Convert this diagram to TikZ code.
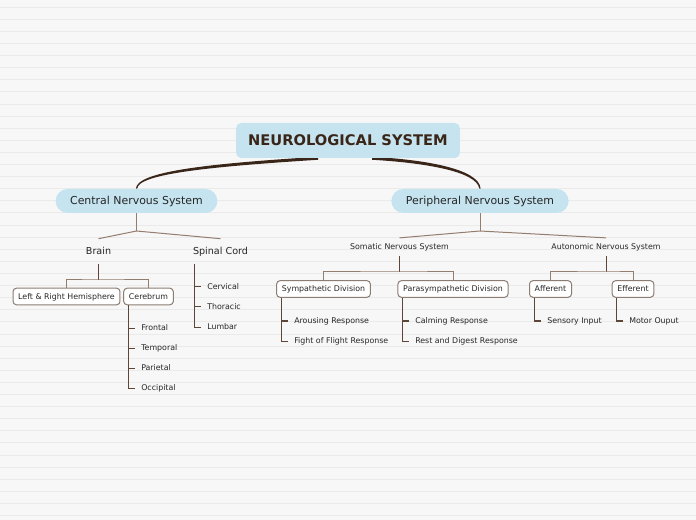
\documentclass[tikz,border=0pt]{standalone}
\usepackage{fontspec}
\setmainfont{DejaVu Sans}
\usetikzlibrary{calc}
\definecolor{paper}{HTML}{F7F7F7}
\definecolor{ruling}{HTML}{EAEAEA}
\definecolor{topic}{HTML}{C6E4EF}
\definecolor{ink}{HTML}{3A2519}
\definecolor{linkc}{HTML}{937D6F}
\definecolor{stemc}{HTML}{5E4637}
\definecolor{framec}{HTML}{8C7D74}
\pgfdeclarelayer{back}
\pgfsetlayers{back,main}

\begin{document}
\begin{tikzpicture}[x=0.75pt,y=-0.75pt,
  headnode/.style={fill=topic,rounded corners=3.75pt,text=ink,inner xsep=9pt,inner ysep=0pt,
    minimum height=26.25pt,text height=8pt,text depth=0pt,font=\fontsize{11}{13}\selectfont\bfseries},
  topicnode/.style={fill=topic,rounded corners=9pt,text=black!85,inner xsep=10.9pt,inner ysep=0pt,
    minimum height=18pt,text height=6pt,text depth=0pt,font=\fontsize{8.2}{10}\selectfont},
  midnode/.style={text=black!85,inner xsep=2pt,inner ysep=6.6pt,text height=5.3pt,text depth=0pt,
    font=\fontsize{7.2}{9}\selectfont},
  smallnode/.style={text=black!85,inner xsep=2pt,inner ysep=4.5pt,text height=4.3pt,text depth=0pt,
    font=\fontsize{5.9}{7}\selectfont},
  boxnode/.style={draw=framec,line width=0.75pt,fill=white,rounded corners=2.5pt,inner xsep=3.9pt,inner ysep=0pt,
    minimum height=12.4pt,text height=4.3pt,text depth=0pt,text=black!85,font=\fontsize{5.9}{7}\selectfont},
  leafnode/.style={anchor=west,inner xsep=4.5pt,inner ysep=1pt,text height=4.3pt,text depth=0pt,
    text=black!85,font=\fontsize{5.9}{7}\selectfont},
  link/.style={draw=linkc,line width=0.75pt},
  stemline/.style={draw=stemc,line width=0.75pt},
  ]
\useasboundingbox (0,0) rectangle (696,520);

\node (root) at (348,140.5) [headnode] {NEUROLOGICAL SYSTEM};
\node (cns) at (136.5,201) [topicnode] {Central Nervous System};
\node (pns) at (480,201) [topicnode] {Peripheral Nervous System};

\node (brain) at (98.5,251.3) [midnode] {Brain};
\node (spinal) at (220.5,251.3) [midnode] {Spinal Cord};
\node (somatic) at (399.5,247) [smallnode] {Somatic Nervous System};
\node (autonomic) at (606,247) [smallnode] {Autonomic Nervous System};

\node (lrh) at (66.5,296.5) [boxnode] {Left \& Right Hemisphere};
\node (cereb) at (148.5,296.5) [boxnode] {Cerebrum};
\node (symp) at (323.5,289) [boxnode] {Sympathetic Division};
\node (para) at (453,289) [boxnode] {Parasympathetic Division};
\node (aff) at (550.5,289) [boxnode] {Afferent};
\node (eff) at (633,289) [boxnode] {Efferent};

\node (frontal) at (135,328) [leafnode] {Frontal};
\node (temporal) at (135,348) [leafnode] {Temporal};
\node (parietal) at (135,368) [leafnode] {Parietal};
\node (occipital) at (135,388) [leafnode] {Occipital};
\node (cervical) at (201,287) [leafnode] {Cervical};
\node (thoracic) at (201,307) [leafnode] {Thoracic};
\node (lumbar) at (201,327) [leafnode] {Lumbar};
\node (arousing) at (288,321) [leafnode] {Arousing Response};
\node (fight) at (288,341) [leafnode] {Fight of Flight Response};
\node (calming) at (409,321) [leafnode] {Calming Response};
\node (rest) at (409,341) [leafnode] {Rest and Digest Response};
\node (sensory) at (541,321) [leafnode] {Sensory Input};
\node (motor) at (623,321) [leafnode] {Motor Ouput};

\coordinate (cj) at (136.5,231);
\coordinate (pj) at (480,231);
\coordinate (bj) at (98.5,280);
\coordinate (sj) at (399.5,272);
\coordinate (aj) at (606,272);

\begin{pgfonlayer}{back}
\fill[paper] (0,0) rectangle (696,520);
\foreach \i in {0,...,42}
  \draw[ruling,line width=0.75pt] (0,7.3+12.1*\i) -- (696,7.3+12.1*\i);
\fill[ink] ($(cns.north)+(-0.65,0)$) .. controls (136.5,171) and (212,163.5) .. ($(root.south)+(-30,-1.5)$)
  -- ($(root.south)+(-30,1.5)$) .. controls (213.5,166.5) and (137.8,173.5) .. ($(cns.north)+(0.65,0)$) -- cycle;
\fill[ink] ($(root.south)+(24,-1.5)$) .. controls (421,159.5) and (479.2,168) .. ($(pns.north)+(0.65,0)$)
  -- ($(pns.north)+(-0.65,0)$) .. controls (477,170.5) and (419.5,162.5) .. ($(root.south)+(24,1.5)$) -- cycle;
\end{pgfonlayer}

\path[link]
(cns.south) edge (cj)
(cj) edge (brain.north)
(cj) edge (spinal.north)
(pns.south) edge (pj)
(pj) edge (somatic.north)
(pj) edge (autonomic.north)
;
\path[stemline]
(brain.south) edge (bj)
(somatic.south) edge (sj)
(autonomic.south) edge (aj)
;
\draw[link] (lrh.north) |- (bj) -| (cereb.north);
\draw[link] (symp.north) |- (sj) -| (para.north);
\draw[link] (aff.north) |- (aj) -| (eff.north);

\foreach \l in {frontal,temporal,parietal,occipital}
  \draw[stemline] ([xshift=3.75pt]cereb.south west) |- (\l.west);
\foreach \l in {cervical,thoracic,lumbar}
  \draw[stemline] ([xshift=3.6pt]spinal.south west) |- (\l.west);
\foreach \l in {arousing,fight}
  \draw[stemline] ([xshift=3.75pt]symp.south west) |- (\l.west);
\foreach \l in {calming,rest}
  \draw[stemline] ([xshift=3.75pt]para.south west) |- (\l.west);
\draw[stemline] ([xshift=3.75pt]aff.south west) |- (sensory.west);
\draw[stemline] ([xshift=3.75pt]eff.south west) |- (motor.west);
\end{tikzpicture}
\end{document}
